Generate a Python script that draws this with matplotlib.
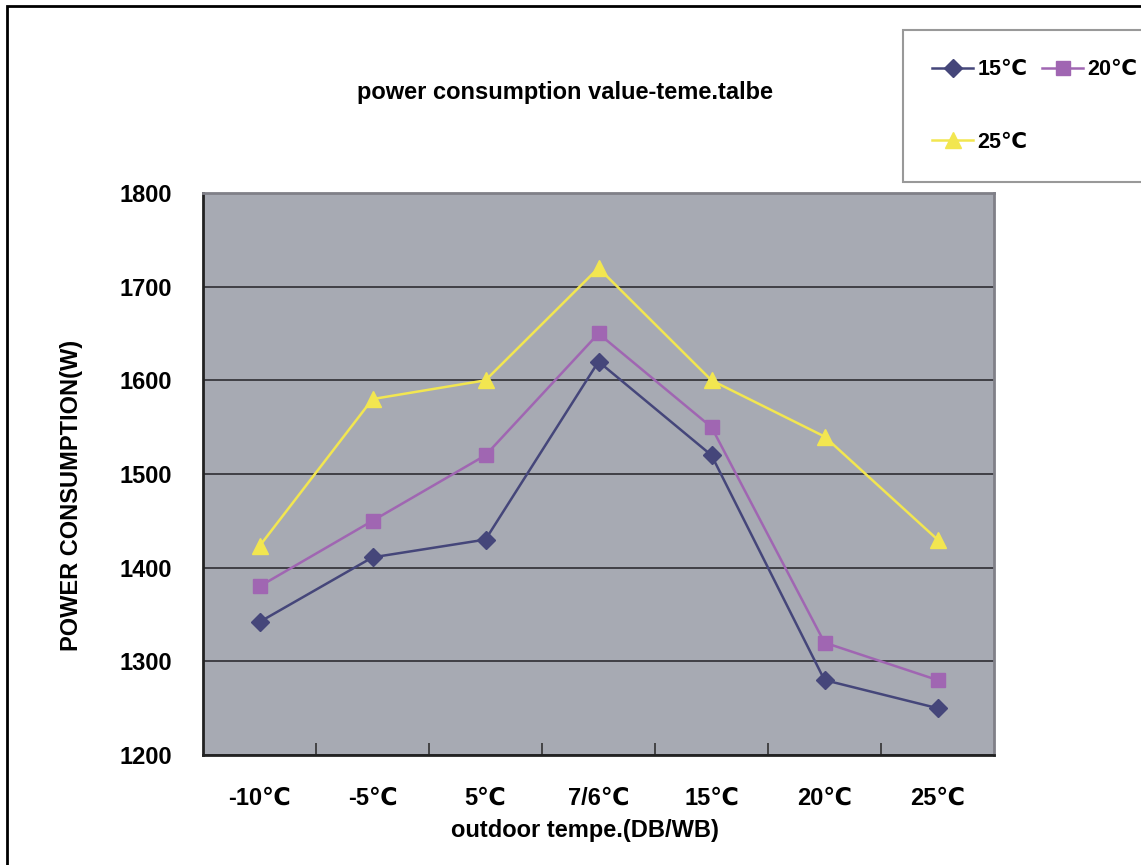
# power consumption vs outdoor temperature chart
import matplotlib
matplotlib.use("Agg")
import matplotlib.pyplot as plt
from matplotlib.patches import Rectangle
import numpy as np

plt.rcParams['font.family'] = ['Liberation Sans', 'DejaVu Sans']
plt.rcParams['font.weight'] = 'bold'

# data
categories = ['-10℃', '-5℃', '5℃', '7/6℃', '15℃', '20℃', '25℃']
series_names = ['15℃', '20℃', '25℃']
vals_15 = [1342, 1411, 1430, 1620, 1520, 1280, 1250]
vals_20 = [1380, 1450, 1520, 1650, 1550, 1320, 1280]
vals_25 = [1423, 1580, 1600, 1720, 1600, 1540, 1430]
yticks = [1200, 1300, 1400, 1500, 1600, 1700, 1800]

W, H = 1141, 865
fig = plt.figure(figsize=(W / 100, H / 100), dpi=100)
ax = fig.add_axes([203 / W, 1 - 755 / H, 791 / W, 562 / H])
ax.set_facecolor('#A7AAB3')

x = np.arange(len(categories))
h15, = ax.plot(x, vals_15, color='#45467A', lw=1.8, marker='D', ms=9)
h20, = ax.plot(x, vals_20, color='#A066B2', lw=1.8, marker='s', ms=10)
h25, = ax.plot(x, vals_25, color='#F2E650', lw=1.8, marker='^', ms=11)

ax.set_xlim(-0.5, len(categories) - 0.5)
ax.set_ylim(1200, 1800)
ax.set_yticks(yticks)
ax.set_yticklabels([str(v) for v in yticks], fontsize=17, fontweight='bold')
ax.yaxis.grid(True, color='#2E2E33', lw=1.2)
ax.set_axisbelow(True)
ax.tick_params(axis='y', length=0, pad=22)

ax.set_xticks(x)
ax.set_xticklabels(categories, fontsize=17, fontweight='bold')
ax.set_xticks(np.arange(0.5, len(categories) - 1, 1), minor=True)
ax.tick_params(axis='x', which='major', length=0, pad=23)
ax.tick_params(axis='x', which='minor', direction='in', length=9, width=1.2, color='#333333')

for s in ['left', 'bottom']:
    ax.spines[s].set_color('#222222')
    ax.spines[s].set_linewidth(2)
for s in ['top', 'right']:
    ax.spines[s].set_color('#808088')
    ax.spines[s].set_linewidth(2)

fig.text(565 / W, 1 - 93 / H, 'power consumption value-teme.talbe',
         ha='center', va='center', fontsize=17, fontweight='bold')
fig.text(585 / W, 1 - 831 / H, 'outdoor tempe.(DB/WB)',
         ha='center', va='center', fontsize=17, fontweight='bold')
fig.text(72 / W, 1 - 495 / H, 'POWER CONSUMPTION(W)', rotation=90,
         ha='center', va='center', fontsize=17, fontweight='bold')

leg = fig.legend([h15, h25, h20], [series_names[0], series_names[2], series_names[1]],
                 ncol=2, loc='upper left', bbox_to_anchor=(903 / W, 1 - 30 / H),
                 borderaxespad=0, frameon=True, fancybox=False, handlelength=1.9,
                 labelspacing=2.4, columnspacing=0.7, borderpad=1.35, handletextpad=0.2,
                 prop={'weight': 'bold', 'size': 15.5})
leg.get_frame().set_edgecolor('#808080')
leg.get_frame().set_linewidth(1.5)

# outer frame
fig.patches.append(Rectangle((7 / W, -0.1), 1.2, 1.1 - 6 / H, transform=fig.transFigure,
                             fill=False, edgecolor='black', lw=2))

fig.savefig('out.png', dpi=100)
